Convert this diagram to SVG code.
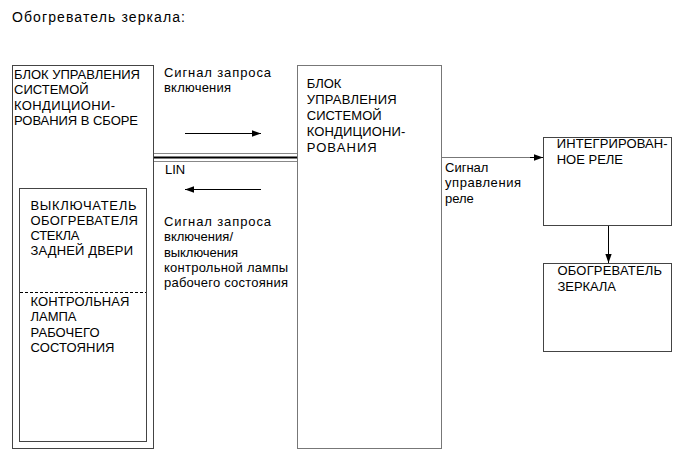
<svg xmlns="http://www.w3.org/2000/svg" width="690" height="465" viewBox="0 0 690 465">
<defs>
<marker id="ah" viewBox="0 0 10 10" refX="10" refY="5" markerWidth="9" markerHeight="9" markerUnits="userSpaceOnUse" orient="auto">
<path d="M0,1.5 L10,5 L0,8.5 Z" fill="#000"/>
</marker>
<style>
text{font-family:"Liberation Sans",Arial,sans-serif;font-size:13px;fill:#000}
.title{font-size:14px}
.box{fill:#fff;stroke:#444;stroke-width:1}
.gbox{fill:#fff;stroke:#777;stroke-width:1}
.arr{stroke:#000;stroke-width:1;fill:none;marker-end:url(#ah)}
</style>
</defs>
<rect width="690" height="465" fill="#fff"/>
<text class="title" x="12" y="22" textLength="173" lengthAdjust="spacing">Обогреватель зеркала:</text>

<g id="acUnitAssy">
<rect class="box" x="12.5" y="65.5" width="141" height="383"/>
<text x="14" y="79" textLength="126" lengthAdjust="spacing">БЛОК УПРАВЛЕНИЯ</text>
<text x="14" y="94.3">СИСТЕМОЙ</text>
<text x="14" y="109.6" textLength="101" lengthAdjust="spacing">КОНДИЦИОНИ-</text>
<text x="14" y="124.9" textLength="124" lengthAdjust="spacing">РОВАНИЯ В СБОРЕ</text>
</g>

<g id="switchLamp">
<rect class="box" x="19.5" y="188.5" width="127" height="253" stroke="#000"/>
<line x1="20" y1="292.5" x2="146" y2="292.5" stroke="#000" stroke-dasharray="3,2"/>
<text x="30.5" y="209.5" textLength="106" lengthAdjust="spacing">ВЫКЛЮЧАТЕЛЬ</text>
<text x="30.5" y="224.8" textLength="107.5" lengthAdjust="spacing">ОБОГРЕВАТЕЛЯ</text>
<text x="30.5" y="240.1" textLength="49" lengthAdjust="spacing">СТЕКЛА</text>
<text x="30.5" y="255.4" textLength="102.5" lengthAdjust="spacing">ЗАДНЕЙ ДВЕРИ</text>
<text x="30.5" y="306" textLength="99" lengthAdjust="spacing">КОНТРОЛЬНАЯ</text>
<text x="30.5" y="321.3" textLength="46" lengthAdjust="spacing">ЛАМПА</text>
<text x="30.5" y="336.6" textLength="69" lengthAdjust="spacing">РАБОЧЕГО</text>
<text x="30.5" y="351.9" textLength="84" lengthAdjust="spacing">СОСТОЯНИЯ</text>
</g>

<g id="acUnit">
<rect class="gbox" x="297.5" y="65.5" width="144" height="383"/>
<text x="306.7" y="87.5">БЛОК</text>
<text x="306.7" y="103.5" textLength="90" lengthAdjust="spacing">УПРАВЛЕНИЯ</text>
<text x="306.7" y="119.5" textLength="75" lengthAdjust="spacing">СИСТЕМОЙ</text>
<text x="306.7" y="135.5" textLength="98.7" lengthAdjust="spacing">КОНДИЦИОНИ-</text>
<text x="306.7" y="151.5" textLength="70" lengthAdjust="spacing">РОВАНИЯ</text>
</g>

<g id="relay">
<rect class="box" x="543.5" y="137.5" width="128" height="88"/>
<text x="556.7" y="148" textLength="111" lengthAdjust="spacing">ИНТЕГРИРОВАН-</text>
<text x="556.7" y="164">НОЕ РЕЛЕ</text>
</g>

<g id="mirrorHeater">
<rect class="box" x="543.5" y="263.5" width="128" height="88"/>
<text x="557.5" y="275" textLength="104.5" lengthAdjust="spacing">ОБОГРЕВАТЕЛЬ</text>
<text x="557.5" y="291" textLength="58.5" lengthAdjust="spacing">ЗЕРКАЛА</text>
</g>

<g id="connectors">
<line x1="154" y1="153.5" x2="297" y2="153.5" stroke="#888" stroke-width="1"/>
<line x1="154" y1="157.5" x2="297" y2="157.5" stroke="#000" stroke-width="2"/>
<line x1="154" y1="161.5" x2="297" y2="161.5" stroke="#888" stroke-width="1"/>
<line class="arr" x1="185" y1="133.5" x2="261" y2="133.5"/>
<line class="arr" x1="261" y1="189.5" x2="185" y2="189.5"/>
<line x1="442" y1="157.5" x2="535" y2="157.5" stroke="#777"/>
<line class="arr" x1="530" y1="157.5" x2="543" y2="157.5"/>
<line class="arr" x1="608.5" y1="226" x2="608.5" y2="263"/>
</g>

<g id="labels">
<text x="164" y="76.5" textLength="107" lengthAdjust="spacing">Сигнал запроса</text>
<text x="164" y="91.8" textLength="67" lengthAdjust="spacing">включения</text>
<text x="165" y="173.5">LIN</text>
<text x="164" y="226" textLength="107" lengthAdjust="spacing">Сигнал запроса</text>
<text x="164" y="241.3" textLength="69" lengthAdjust="spacing">включения/</text>
<text x="164" y="256.6" textLength="74" lengthAdjust="spacing">выключения</text>
<text x="164" y="271.9" textLength="124" lengthAdjust="spacing">контрольной лампы</text>
<text x="164" y="287.2" textLength="124" lengthAdjust="spacing">рабочего состояния</text>
<text x="445" y="172">Сигнал</text>
<text x="445" y="187.3" textLength="76" lengthAdjust="spacing">управления</text>
<text x="445" y="202.6">реле</text>
</g>
</svg>
